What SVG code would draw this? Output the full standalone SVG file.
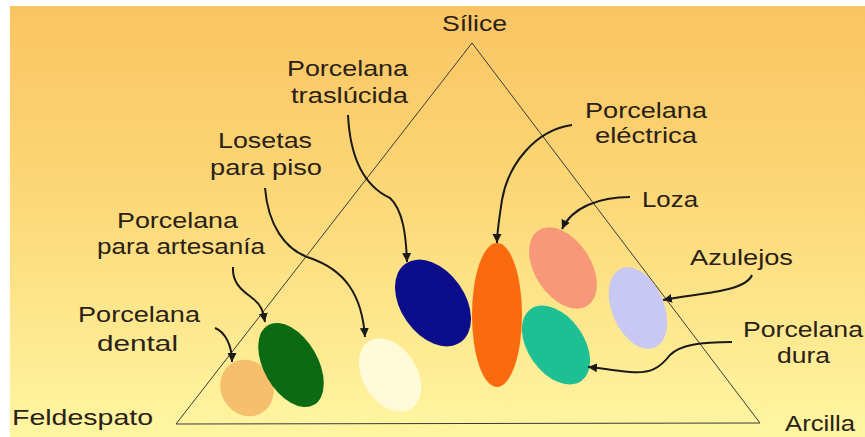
<svg xmlns="http://www.w3.org/2000/svg" width="865" height="437" viewBox="0 0 865 437">
<defs>
<linearGradient id="bg" x1="0" y1="0" x2="0" y2="1">
<stop offset="0" stop-color="#FAC462"/>
<stop offset="0.45" stop-color="#FCD878"/>
<stop offset="1" stop-color="#FFF6A2"/>
</linearGradient>
<marker id="arr" markerUnits="userSpaceOnUse" markerWidth="10" markerHeight="10" refX="9" refY="5" orient="auto">
<path d="M0,0.5 L9,5 L0,9.5 z" fill="#1a1a1a"/>
</marker>
<style>
.t{font-family:"Liberation Sans",Arial,sans-serif;font-size:22px;fill:#2a2118;}
.c{fill:none;stroke:#1a1a1a;stroke-width:2;marker-end:url(#arr);}
.tri{fill:none;stroke:#3a3a3a;stroke-width:1;}
</style>
</defs>
<rect x="0" y="0" width="865" height="437" fill="#ffffff"/>
<rect x="10" y="6" width="855" height="431" fill="url(#bg)"/>

<g id="triangle">
<path class="tri" d="M472,43 L760,423 L176,424 Z"/>
</g>

<g id="silice"><text class="t" x="442" y="31" textLength="65" lengthAdjust="spacingAndGlyphs">Sílice</text></g>
<g id="feldespato"><text class="t" x="12" y="425" textLength="141" lengthAdjust="spacingAndGlyphs">Feldespato</text></g>
<g id="arcilla"><text class="t" x="785" y="431" textLength="70" lengthAdjust="spacingAndGlyphs">Arcilla</text></g>

<g id="porcelana-dental">
<ellipse cx="247" cy="388" rx="29" ry="26" transform="rotate(60 247 388)" fill="#F5BF6E"/>
<text class="t" x="78" y="322" textLength="122" lengthAdjust="spacingAndGlyphs">Porcelana</text>
<text class="t" x="97" y="351" textLength="81" lengthAdjust="spacingAndGlyphs">dental</text>
</g>

<g id="porcelana-artesania">
<ellipse cx="291" cy="365" rx="46" ry="27" transform="rotate(60 291 365)" fill="#0B6A12"/>
<text class="t" x="117" y="228" textLength="121" lengthAdjust="spacingAndGlyphs">Porcelana</text>
<text class="t" x="97" y="254" textLength="168" lengthAdjust="spacingAndGlyphs">para artesanía</text>
</g>

<g id="losetas">
<ellipse cx="390" cy="375" rx="40" ry="27" transform="rotate(58 390 375)" fill="#FFFBD9"/>
<text class="t" x="218" y="148" textLength="94" lengthAdjust="spacingAndGlyphs">Losetas</text>
<text class="t" x="210" y="175" textLength="112" lengthAdjust="spacingAndGlyphs">para piso</text>
</g>

<g id="porcelana-traslucida">
<ellipse cx="433" cy="303" rx="48" ry="32" transform="rotate(55 433 303)" fill="#0B0D8A"/>
<text class="t" x="287" y="76" textLength="121" lengthAdjust="spacingAndGlyphs">Porcelana</text>
<text class="t" x="291" y="103" textLength="117" lengthAdjust="spacingAndGlyphs">traslúcida</text>
</g>

<g id="porcelana-electrica">
<ellipse cx="497" cy="315" rx="25" ry="72" fill="#FA6A0E"/>
<text class="t" x="585" y="118" textLength="122" lengthAdjust="spacingAndGlyphs">Porcelana</text>
<text class="t" x="595" y="143" textLength="102" lengthAdjust="spacingAndGlyphs">eléctrica</text>
</g>

<g id="loza">
<ellipse cx="563" cy="268" rx="45" ry="28" transform="rotate(57 563 268)" fill="#F79878"/>
<text class="t" x="642" y="207" textLength="56" lengthAdjust="spacingAndGlyphs">Loza</text>
</g>

<g id="azulejos">
<ellipse cx="638" cy="308" rx="43" ry="26" transform="rotate(67 638 308)" fill="#C8C8F3"/>
<text class="t" x="690" y="265" textLength="103" lengthAdjust="spacingAndGlyphs">Azulejos</text>
</g>

<g id="porcelana-dura">
<ellipse cx="556" cy="345" rx="44" ry="28" transform="rotate(55 556 345)" fill="#1FBF94"/>
<text class="t" x="743" y="337" textLength="120" lengthAdjust="spacingAndGlyphs">Porcelana</text>
<text class="t" x="777" y="363" textLength="53" lengthAdjust="spacingAndGlyphs">dura</text>
</g>

<g id="connectors">
<path class="c" d="M215,328 C225,332 232,345 232,362"/>
<path class="c" d="M233,267 C232,285 245,292 252,298 C262,305 263,312 265,322"/>
<path class="c" d="M265,188 C268,225 285,250 310,258 C345,270 362,295 365,337"/>
<path class="c" d="M348,115 C350,155 362,185 390,198 C403,210 406,235 407,262"/>
<path class="c" d="M572,125 C535,130 508,165 502,200 C499,220 497,232 497,243"/>
<path class="c" d="M630,197 C600,197 572,207 562,229"/>
<path class="c" d="M752,275 C745,292 700,293 663,300"/>
<path class="c" d="M732,342 C700,342 680,345 670,355 C660,368 650,374 630,372 C610,370 600,368 588,367"/>
</g>
</svg>
